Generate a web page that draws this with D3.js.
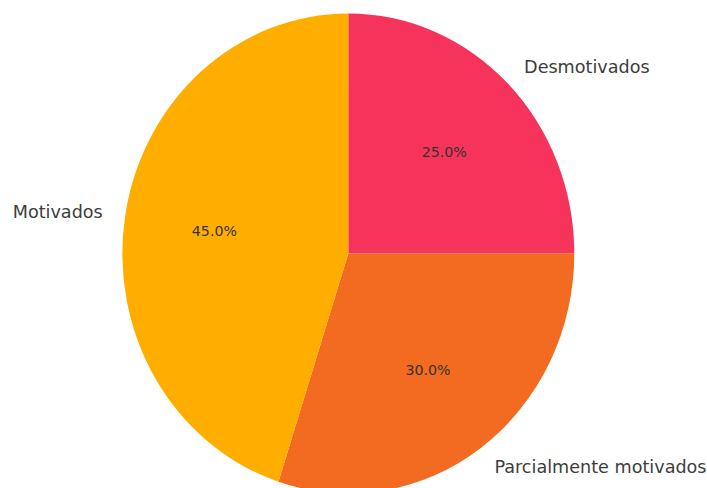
<!DOCTYPE html>
<html>
<head>
<meta charset="utf-8">
<script src="https://cdn.jsdelivr.net/npm/d3@7"></script>
<style>
  html, body { margin: 0; padding: 0; background: #ffffff; }
  svg { display: block; }
  text { font-family: "DejaVu Sans", sans-serif; }
</style>
</head>
<body>
<svg id="chart" width="707" height="488"></svg>
<script>
// Survey groups and their shares (percent)
const categories = ["Desmotivados", "Parcialmente motivados", "Motivados"];
const values = [25, 30, 45];
const colors = ["#F6345B", "#F26B21", "#FFAE00"];

const width = 707, height = 488;
const cx = 348.3, cy = 253.5;   // pie centre
const rx = 226, ry = 240;       // horizontal / vertical radius (unequal axes)

const svg = d3.select("#chart");

// unit-circle coordinates mapped onto the stretched pie
const xs = d3.scaleLinear().domain([-1, 1]).range([cx - rx, cx + rx]);
const ys = d3.scaleLinear().domain([-1, 1]).range([cy - ry, cy + ry]);

const pie = d3.pie().sort(null).value(d => d.value).startAngle(0).endAngle(2 * Math.PI);
const data = categories.map((c, i) => ({ name: c, value: values[i], color: colors[i] }));
const arcs = pie(data);

const arc = d3.arc().innerRadius(0).outerRadius(1);

const g = svg.append("g")
  .attr("transform", `translate(${xs(0)},${ys(0)}) scale(${rx},${ry})`);

g.selectAll("path")
  .data(arcs)
  .join("path")
  .attr("d", arc)
  .attr("fill", d => d.data.color);

const total = d3.sum(values);
// point at fraction r of the radius along the wedge's middle direction
function at(d, r) {
  const a = (d.startAngle + d.endAngle) / 2;
  return [xs(r * Math.sin(a)), ys(-r * Math.cos(a))];
}

// category labels outside the pie
svg.selectAll("text.label")
  .data(arcs)
  .join("text")
  .attr("class", "label")
  .attr("x", d => at(d, 1.1)[0])
  .attr("y", d => at(d, 1.1)[1])
  .attr("text-anchor", d => Math.sin((d.startAngle + d.endAngle) / 2) >= 0 ? "start" : "end")
  .attr("dominant-baseline", "central")
  .attr("font-size", "17.6px")
  .attr("fill", "#3d3d3d")
  .text(d => d.data.name);

// percentage labels inside the wedges
svg.selectAll("text.pct")
  .data(arcs)
  .join("text")
  .attr("class", "pct")
  .attr("x", d => at(d, 0.6)[0])
  .attr("y", d => at(d, 0.6)[1])
  .attr("text-anchor", "middle")
  .attr("dominant-baseline", "central")
  .attr("font-size", "14.2px")
  .attr("fill", "#333333")
  .text(d => (d.data.value / total * 100).toFixed(1) + "%");
</script>
</body>
</html>
